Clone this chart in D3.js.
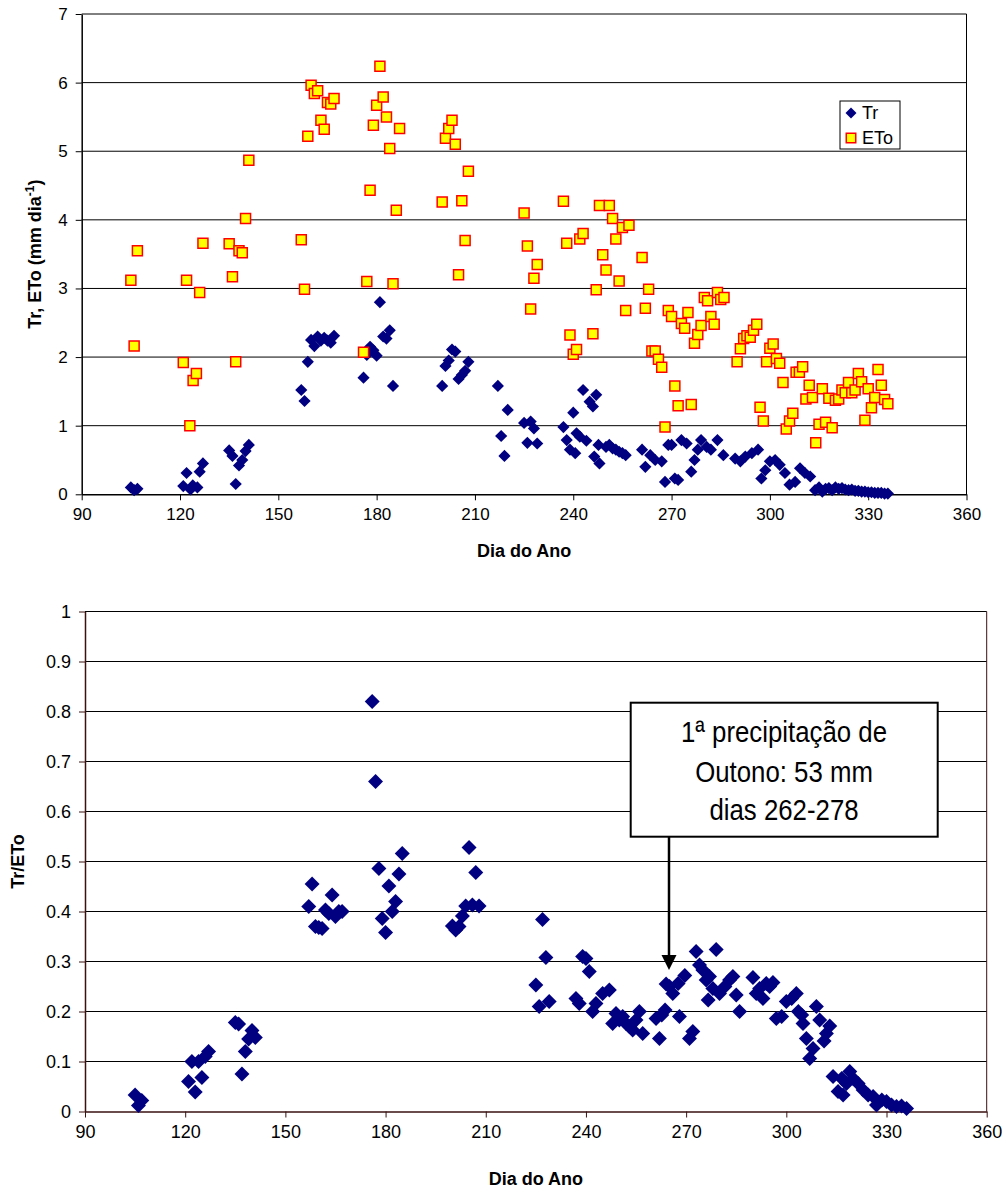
<!DOCTYPE html>
<html>
<head>
<meta charset="utf-8">
<script src="https://cdn.jsdelivr.net/npm/d3@7"></script>
<style>
  body { margin: 0; background: #fff; }
  svg text { font-family: "Liberation Sans", Arial, sans-serif; fill: #000; }
</style>
</head>
<body>
<svg id="chart" width="1005" height="1189"></svg>
<script>
// day-of-year ticks shared by both panels
const dayTicks = [90, 120, 150, 180, 210, 240, 270, 300, 330, 360];
const topYTicks = [0, 1, 2, 3, 4, 5, 6, 7];
const bottomYTicks = [0, 0.1, 0.2, 0.3, 0.4, 0.5, 0.6, 0.7, 0.8, 0.9, 1];
const bottomYLabels = ["0", "0.1", "0.2", "0.3", "0.4", "0.5", "0.6", "0.7", "0.8", "0.9", "1"];

// Tr (mm/dia)
const trDay = [105, 106, 107, 121, 122, 123.2, 123.9, 125.3, 126, 127,
  135, 136, 137, 138, 139, 140, 141,
  157, 158, 159, 160, 161, 162, 163, 164, 165, 166, 167,
  176, 177, 178, 179, 180, 181, 182, 183, 184, 185,
  200, 201, 202, 203, 204, 205, 206, 207, 208,
  217, 218, 219, 220, 225, 226, 227, 228, 229,
  237, 238, 239, 240, 240.6, 241, 242, 243, 244, 245, 246, 246.4, 247, 247.7, 248,
  250, 251, 252, 253, 254, 255, 256, 261, 262, 263.5, 265, 267, 268, 269, 270, 271, 272, 273, 274.6,
  276, 277, 278, 279, 280.7, 282, 284, 285.8, 289.4, 291, 292.5, 294.5, 296.4, 297.4, 298.6,
  300, 301.6, 303, 304.6, 306, 307.7, 309.2, 310.7, 312.3, 313.8,
  315, 316, 317, 318, 319, 320, 321, 322, 323, 324, 325, 326, 327, 328, 329, 330, 331, 332, 333, 334, 335, 336];
const trVal = [0.10, 0.06, 0.08, 0.12, 0.31, 0.07, 0.13, 0.10, 0.33, 0.45,
  0.64, 0.56, 0.15, 0.42, 0.50, 0.63, 0.72,
  1.52, 1.36, 1.93, 2.25, 2.16, 2.30, 2.24, 2.28, 2.24, 2.21, 2.31,
  1.70, 2.03, 2.15, 2.10, 2.02, 2.80, 2.30, 2.27, 2.39, 1.58,
  1.58, 1.87, 1.95, 2.11, 2.08, 1.68, 1.74, 1.80, 1.93,
  1.58, 0.85, 0.56, 1.23, 1.04, 0.75, 1.06, 0.96, 0.74,
  0.98, 0.79, 0.65, 1.19, 0.60, 0.89, 0.84, 1.52, 0.78, 1.35, 1.28, 0.55, 1.45, 0.72, 0.45,
  0.69, 0.72, 0.67, 0.65, 0.62, 0.60, 0.57, 0.65, 0.40, 0.57, 0.50, 0.48, 0.18, 0.72, 0.72, 0.23, 0.21, 0.79, 0.74,
  0.33, 0.50, 0.65, 0.79, 0.69, 0.65, 0.79, 0.57, 0.52, 0.48, 0.55, 0.60, 0.65, 0.23, 0.35,
  0.48, 0.50, 0.43, 0.31, 0.14, 0.18, 0.38, 0.31, 0.26, 0.06,
  0.10, 0.04, 0.08, 0.09, 0.06, 0.10, 0.08, 0.09, 0.07, 0.06, 0.07, 0.05, 0.05, 0.04, 0.04, 0.03, 0.03, 0.02, 0.02, 0.02, 0.01, 0.01];

// ETo (mm/dia)
const etoDay = [105, 106, 107, 121, 122, 123, 124, 125, 126, 127,
  135, 136, 137, 138, 139, 140, 141,
  157, 158, 159, 160, 161, 162, 163, 164, 165, 166, 167,
  176, 177, 178, 179, 180, 181, 182, 183, 184, 185, 186, 187,
  200, 201, 202, 203, 204, 205, 206, 207, 208,
  225, 226, 227, 228, 229,
  237, 238, 239, 240, 241, 242, 243, 246, 247, 248, 249, 250, 251, 252, 253, 254, 255, 256, 257,
  261, 262, 263, 264, 265, 266, 267, 268, 269, 270, 271, 272, 273, 274, 275, 276, 277, 278, 279,
  280, 281, 282, 283, 284, 285, 286, 290, 291, 292, 293, 294, 295, 296, 297, 298, 299,
  300, 301, 302, 303, 304, 305, 306, 307, 308, 309, 310, 311, 312, 313, 314, 315, 316, 317, 318, 319,
  320, 321, 322, 323, 324, 325, 326, 327, 328, 329, 330, 331, 332, 333, 334, 335, 336];
const etoVal = [3.12, 2.16, 3.55, 1.92, 3.12, 1.00, 1.66, 1.76, 2.94, 3.66,
  3.65, 3.17, 1.93, 3.55, 3.52, 4.02, 4.87,
  3.71, 2.99, 5.22, 5.96, 5.84, 5.88, 5.45, 5.32, 5.71, 5.69, 5.77,
  2.07, 3.10, 4.43, 5.38, 5.67, 6.24, 5.79, 5.50, 5.04, 3.07, 4.14, 5.33,
  4.26, 5.19, 5.33, 5.45, 5.10, 3.20, 4.28, 3.70, 4.71,
  4.10, 3.62, 2.70, 3.15, 3.35,
  4.27, 3.66, 2.32, 2.04, 2.11, 3.72, 3.80, 2.34, 2.98, 4.21, 3.49, 3.27, 4.21, 4.02, 3.72, 3.11, 3.89, 2.68, 3.92,
  3.45, 2.71, 2.99, 2.09, 2.09, 1.97, 1.85, 0.98, 2.68, 2.59, 1.58, 1.29, 2.49, 2.42, 2.65, 1.31, 2.20, 2.33, 2.46,
  2.87, 2.82, 2.59, 2.48, 2.94, 2.84, 2.87, 1.93, 2.12, 2.27, 2.31, 2.29, 2.39, 2.48, 1.27, 1.07, 1.93,
  2.13, 2.19, 1.98, 1.91, 1.63, 0.95, 1.07, 1.18, 1.78, 1.78, 1.86, 1.39, 1.59, 1.41, 0.75, 1.02, 1.54, 1.05, 1.40, 0.97,
  1.37, 1.39, 1.52, 1.48, 1.63, 1.48, 1.52, 1.76, 1.64, 1.08, 1.54, 1.26, 1.41, 1.82, 1.59, 1.38, 1.32];

// Tr/ETo
const ratioDay = [105, 106, 107, 121, 122, 123, 124, 125, 126, 127,
  135, 136, 137, 138, 139, 140, 141,
  157, 158, 159, 160, 161, 162, 163, 164, 165, 166, 167,
  176, 177, 178, 179, 180, 181, 182, 183, 184, 185,
  200, 201, 202, 203, 204, 205, 206, 207, 208,
  225, 226, 227, 228, 229,
  237, 238, 239, 240, 241, 242, 243, 245, 247, 248, 249, 250, 251, 252, 253, 254, 255, 256, 257,
  261, 262, 262.7, 263.7, 264, 265, 266, 267.6, 268, 269.6, 271, 272, 273, 274, 275, 276, 276.6, 277, 278, 279,
  280, 281.6, 283, 284, 285, 286, 290, 291, 292, 293, 294, 295, 296, 297, 298.6,
  300, 301.6, 303, 303.6, 304.6, 305, 306, 307, 308, 309, 310, 311.3, 312, 313,
  314, 315.5, 316.6, 317, 318, 319, 320, 321.5, 323, 324.5, 326, 327, 328.6, 330, 331.5, 333, 334.5, 336];
const ratioVal = [0.033, 0.012, 0.022, 0.06, 0.10, 0.039, 0.10, 0.068, 0.11, 0.12,
  0.178, 0.175, 0.075, 0.12, 0.145, 0.162, 0.148,
  0.41, 0.455, 0.37, 0.368, 0.366, 0.403, 0.396, 0.433, 0.39, 0.40, 0.40,
  0.82, 0.66, 0.486, 0.386, 0.358, 0.451, 0.40, 0.42, 0.475, 0.516,
  0.371, 0.363, 0.37, 0.391, 0.411, 0.528, 0.413, 0.478, 0.411,
  0.253, 0.21, 0.384, 0.308, 0.22,
  0.226, 0.216, 0.31, 0.306, 0.28, 0.20, 0.216, 0.236, 0.243, 0.176, 0.196, 0.183, 0.19, 0.176, 0.17, 0.163, 0.183, 0.20, 0.156,
  0.186, 0.146, 0.193, 0.203, 0.255, 0.25, 0.236, 0.256, 0.19, 0.272, 0.146, 0.16, 0.32, 0.293, 0.283, 0.263, 0.223, 0.27, 0.246, 0.324,
  0.236, 0.25, 0.263, 0.27, 0.233, 0.20, 0.268, 0.236, 0.246, 0.226, 0.256, 0.25, 0.258, 0.186, 0.19,
  0.22, 0.226, 0.236, 0.20, 0.193, 0.176, 0.146, 0.106, 0.126, 0.21, 0.183, 0.141, 0.156, 0.171,
  0.07, 0.04, 0.066, 0.033, 0.056, 0.08, 0.066, 0.056, 0.043, 0.033, 0.03, 0.013, 0.023, 0.02, 0.013, 0.01, 0.011, 0.006];

const navy = "#000080";
const svg = d3.select("#chart");

const diamond = (size) => d3.symbol().type(d3.symbolSquare).size(size);
const square = d3.symbol().type(d3.symbolSquare).size(100);

function panel(box, yDomain, yTicks, yFormat, axisColor, labelSize) {
  const x = d3.scaleLinear().domain([90, 360]).range([box.left, box.right]);
  const y = d3.scaleLinear().domain(yDomain).range([box.bottom, box.top]);
  const g = svg.append("g");

  // horizontal grid lines
  g.append("g")
    .selectAll("line")
    .data(yTicks.filter((t) => t > 0))
    .join("line")
    .attr("x1", box.left)
    .attr("x2", box.right)
    .attr("y1", (d) => y(d))
    .attr("y2", (d) => y(d))
    .attr("stroke", "#000")
    .attr("stroke-width", 1);

  // right frame
  g.append("line")
    .attr("x1", box.right).attr("x2", box.right)
    .attr("y1", box.top).attr("y2", box.bottom)
    .attr("stroke", axisColor);

  const xAxis = g.append("g")
    .attr("transform", `translate(0,${box.bottom})`)
    .call(d3.axisBottom(x).tickValues(dayTicks).tickSize(6).tickSizeOuter(0).tickPadding(8));
  const yAxis = g.append("g")
    .attr("transform", `translate(${box.left},0)`)
    .call(d3.axisLeft(y).tickValues(yTicks).tickFormat(yFormat).tickSize(6).tickSizeOuter(0).tickPadding(8));

  [xAxis, yAxis].forEach((a) => {
    a.select(".domain").attr("stroke", axisColor).attr("stroke-width", 1.5);
    a.selectAll(".tick line").attr("stroke", axisColor);
    a.selectAll("text")
      .attr("font-family", "Liberation Sans, Arial, sans-serif")
      .attr("font-size", labelSize)
      .attr("fill", "#000");
  });
  return { x, y, g };
}

// ---------- top panel ----------
const topBox = { left: 81.7, right: 966.5, top: 14, bottom: 494.3 };
const T = panel(topBox, [0, 7], topYTicks, d3.format("d"), "#000", 17);

T.g.append("g")
  .selectAll("path")
  .data(trDay)
  .join("path")
  .attr("d", diamond(74))
  .attr("transform", (d, i) => `translate(${T.x(d)},${T.y(trVal[i])}) rotate(45)`)
  .attr("fill", navy);

T.g.append("g")
  .selectAll("path")
  .data(etoDay)
  .join("path")
  .attr("d", square)
  .attr("transform", (d, i) => `translate(${T.x(d)},${T.y(etoVal[i])})`)
  .attr("fill", "#ffff00")
  .attr("stroke", "#ff0000")
  .attr("stroke-width", 1.5);

// legend
const leg = svg.append("g").attr("transform", "translate(840,101)");
leg.append("rect").attr("width", 60).attr("height", 48)
  .attr("fill", "#fff").attr("stroke", "#000").attr("stroke-width", 1);
leg.append("path").attr("d", diamond(60))
  .attr("transform", "translate(11,12) rotate(45)").attr("fill", navy);
leg.append("path").attr("d", d3.symbol().type(d3.symbolSquare).size(90))
  .attr("transform", "translate(11,37)")
  .attr("fill", "#ffff00").attr("stroke", "#ff0000").attr("stroke-width", 1.5);
leg.append("text").attr("x", 22).attr("y", 12).attr("dy", "0.36em")
  .attr("font-size", 18).text("Tr");
leg.append("text").attr("x", 22).attr("y", 37).attr("dy", "0.36em")
  .attr("font-size", 18).text("ETo");

// axis titles
svg.append("text")
  .attr("x", (topBox.left + topBox.right) / 2).attr("y", 557)
  .attr("text-anchor", "middle").attr("font-size", 18).attr("font-weight", "bold")
  .text("Dia do Ano");

const yt = svg.append("text")
  .attr("transform", `translate(41,${(topBox.top + topBox.bottom) / 2}) rotate(-90)`)
  .attr("text-anchor", "middle").attr("font-size", 18).attr("font-weight", "bold");
yt.append("tspan").text("Tr, ETo (mm dia");
yt.append("tspan").attr("font-size", 12).attr("dy", -7).text("-1");
yt.append("tspan").attr("dy", 7).text(")");

// ---------- bottom panel ----------
const botBox = { left: 85, right: 986.7, top: 611.5, bottom: 1111.5 };
const B = panel(botBox, [0, 1], bottomYTicks, (d, i) => bottomYLabels[i], "#3a1010", 18);

B.g.append("g")
  .selectAll("path")
  .data(ratioDay)
  .join("path")
  .attr("d", diamond(112))
  .attr("transform", (d, i) => `translate(${B.x(d)},${B.y(ratioVal[i])}) rotate(45)`)
  .attr("fill", navy);

svg.append("text")
  .attr("x", (botBox.left + botBox.right) / 2).attr("y", 1185)
  .attr("text-anchor", "middle").attr("font-size", 18).attr("font-weight", "bold")
  .text("Dia do Ano");

svg.append("text")
  .attr("transform", `translate(24,${(botBox.top + botBox.bottom) / 2}) rotate(-90)`)
  .attr("text-anchor", "middle").attr("font-size", 18).attr("font-weight", "bold")
  .text("Tr/ETo");

// annotation box with arrow
const note = svg.append("g");
note.append("line")
  .attr("x1", 669).attr("x2", 669).attr("y1", 836).attr("y2", 958)
  .attr("stroke", "#000").attr("stroke-width", 2.5);
note.append("path")
  .attr("d", "M661.5,955 L676.5,955 L669,970 Z").attr("fill", "#000");
note.append("rect")
  .attr("x", 630.7).attr("y", 702.7).attr("width", 307).attr("height", 134)
  .attr("fill", "#fff").attr("stroke", "#000").attr("stroke-width", 2);
const noteText = note.append("g").attr("transform", "translate(784,0) scale(0.86,1)");
["1ª precipitação de", "Outono: 53 mm", "dias 262-278"].forEach((s, i) => {
  noteText.append("text")
    .attr("x", 0).attr("y", [742, 782, 820][i])
    .attr("text-anchor", "middle").attr("font-size", 30)
    .text(s);
});
</script>
</body>
</html>
